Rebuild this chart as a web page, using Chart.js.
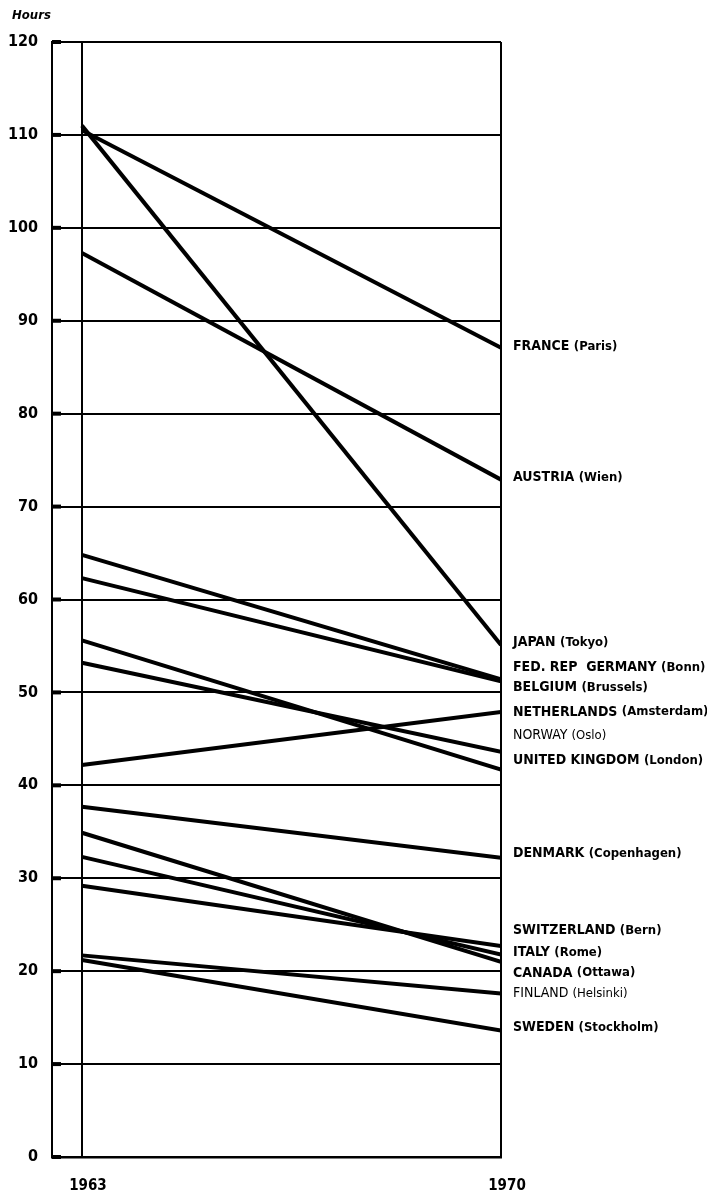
<!doctype html>
<html lang="en">

<head>
    <meta charset="utf-8">
    <script src="https://cdn.jsdelivr.net/npm/chart.js@4.4.0/dist/chart.umd.min.js"></script>
    <title>Hours</title>
    <style>
        body { margin: 0; background: #fff; }
    </style>
</head>

<body>
    <canvas id="myChart" width="707" height="1196"></canvas>

    <script>
        // values (hours), 1963 -> 1970
        var countries = ['FRANCE', 'AUSTRIA', 'JAPAN', 'FED. REP  GERMANY', 'BELGIUM', 'NETHERLANDS',
            'NORWAY', 'UNITED KINGDOM', 'DENMARK', 'SWITZERLAND', 'ITALY', 'CANADA', 'FINLAND', 'SWEDEN'];
        var cities = ['(Paris)', '(Wien)', '(Tokyo)', '(Bonn)', '(Brussels)', '(Amsterdam)',
            '(Oslo)', '(London)', '(Copenhagen)', '(Bern)', '(Rome)', '(Ottawa)', '(Helsinki)', '(Stockholm)'];
        var hours1963 = [110.5, 97.3, 111, 64.8, 62.3, 42.2, 53.2, 55.6, 37.7, 29.2, 32.3, 34.9, 21.7, 21.2];
        var hours1970 = [87.1, 72.9, 55.1, 51.4, 51.2, 47.9, 43.6, 41.7, 32.2, 22.7, 21.8, 21.0, 17.6, 13.6];
        // where each name sits on the hours scale, spread apart where lines end close together
        var labelHours = [87.2, 73.1, 55.4, 52.7, 50.5, 47.9, 45.4, 42.7, 32.7, 24.4, 22.0, 19.8, 17.6, 13.9];
        var years = [1963, 1970];
        var yTicks = [0, 10, 20, 30, 40, 50, 60, 70, 80, 90, 100, 110, 120];

        var FONT = '"Liberation Sans Narrow", "DejaVu Sans Condensed", "Liberation Sans", sans-serif';

        var datasets = countries.map(function (c, i) {
            return {
                label: c,
                data: [{ x: years[0], y: hours1963[i] }, { x: years[1], y: hours1970[i] }],
                borderColor: '#000',
                borderWidth: 4,
                pointRadius: 0,
                fill: false
            };
        });

        const extras = {
            id: 'extras',
            afterDraw: function (chart) {
                const ctx = chart.ctx;
                const y = chart.scales.y;
                const x = chart.scales.x;
                ctx.save();
                // little tick bars on the hours axis
                ctx.fillStyle = '#000';
                yTicks.forEach(function (t) {
                    ctx.fillRect(x.left, y.getPixelForValue(t) - 2, 9, 4);
                });
                // Hours caption
                ctx.font = 'italic bold 13px ' + FONT;
                ctx.textAlign = 'left';
                ctx.textBaseline = 'middle';
                ctx.fillText('Hours', 12, 16);
                // country names at the 1970 end
                const lx = x.getPixelForValue(years[1]) + 12;
                countries.forEach(function (c, i) {
                    const py = y.getPixelForValue(labelHours[i]);
                    const small = (c === 'NORWAY' || c === 'FINLAND');
                    ctx.font = (small ? '' : 'bold ') + '14px ' + FONT;
                    ctx.fillText(c + ' ', lx, py);
                    const w = ctx.measureText(c + ' ').width;
                    ctx.font = (small ? '' : 'bold ') + '13px ' + FONT;
                    ctx.fillText(cities[i], lx + w, py);
                });
                ctx.restore();
            }
        };

        const ctx = document.getElementById('myChart').getContext('2d');
        const chart = new Chart(ctx, {
            type: 'line',
            data: { datasets: datasets },
            options: {
                responsive: false,
                animation: false,
                layout: { padding: { top: 42, right: 206, left: 0, bottom: 0 } },
                plugins: {
                    legend: { display: false },
                    tooltip: { enabled: false }
                },
                scales: {
                    x: {
                        type: 'linear',
                        min: 1962.5,
                        max: 1970,
                        afterBuildTicks: function (scale) {
                            scale.ticks = years.map(function (v) { return { value: v }; });
                        },
                        afterFit: function (scale) { scale.height = 39; },
                        grid: { color: '#000', lineWidth: 2, drawTicks: false },
                        border: { display: true, color: '#000', width: 2.5 },
                        ticks: {
                            color: '#000',
                            padding: 20,
                            labelOffset: 6,
                            maxRotation: 0,
                            font: { family: FONT, size: 15, weight: 'bold' },
                            callback: function (v) { return String(v); }
                        }
                    },
                    y: {
                        min: 0,
                        max: 120,
                        afterBuildTicks: function (scale) {
                            scale.ticks = yTicks.map(function (v) { return { value: v }; });
                        },
                        afterFit: function (scale) { scale.width = 52; },
                        grid: { color: '#000', lineWidth: 2, drawTicks: false },
                        border: { display: true, color: '#000', width: 2 },
                        ticks: {
                            color: '#000',
                            padding: 14,
                            font: { family: FONT, size: 16, weight: 'bold' }
                        }
                    }
                }
            },
            plugins: [extras]
        });
    </script>
</body>

</html>
